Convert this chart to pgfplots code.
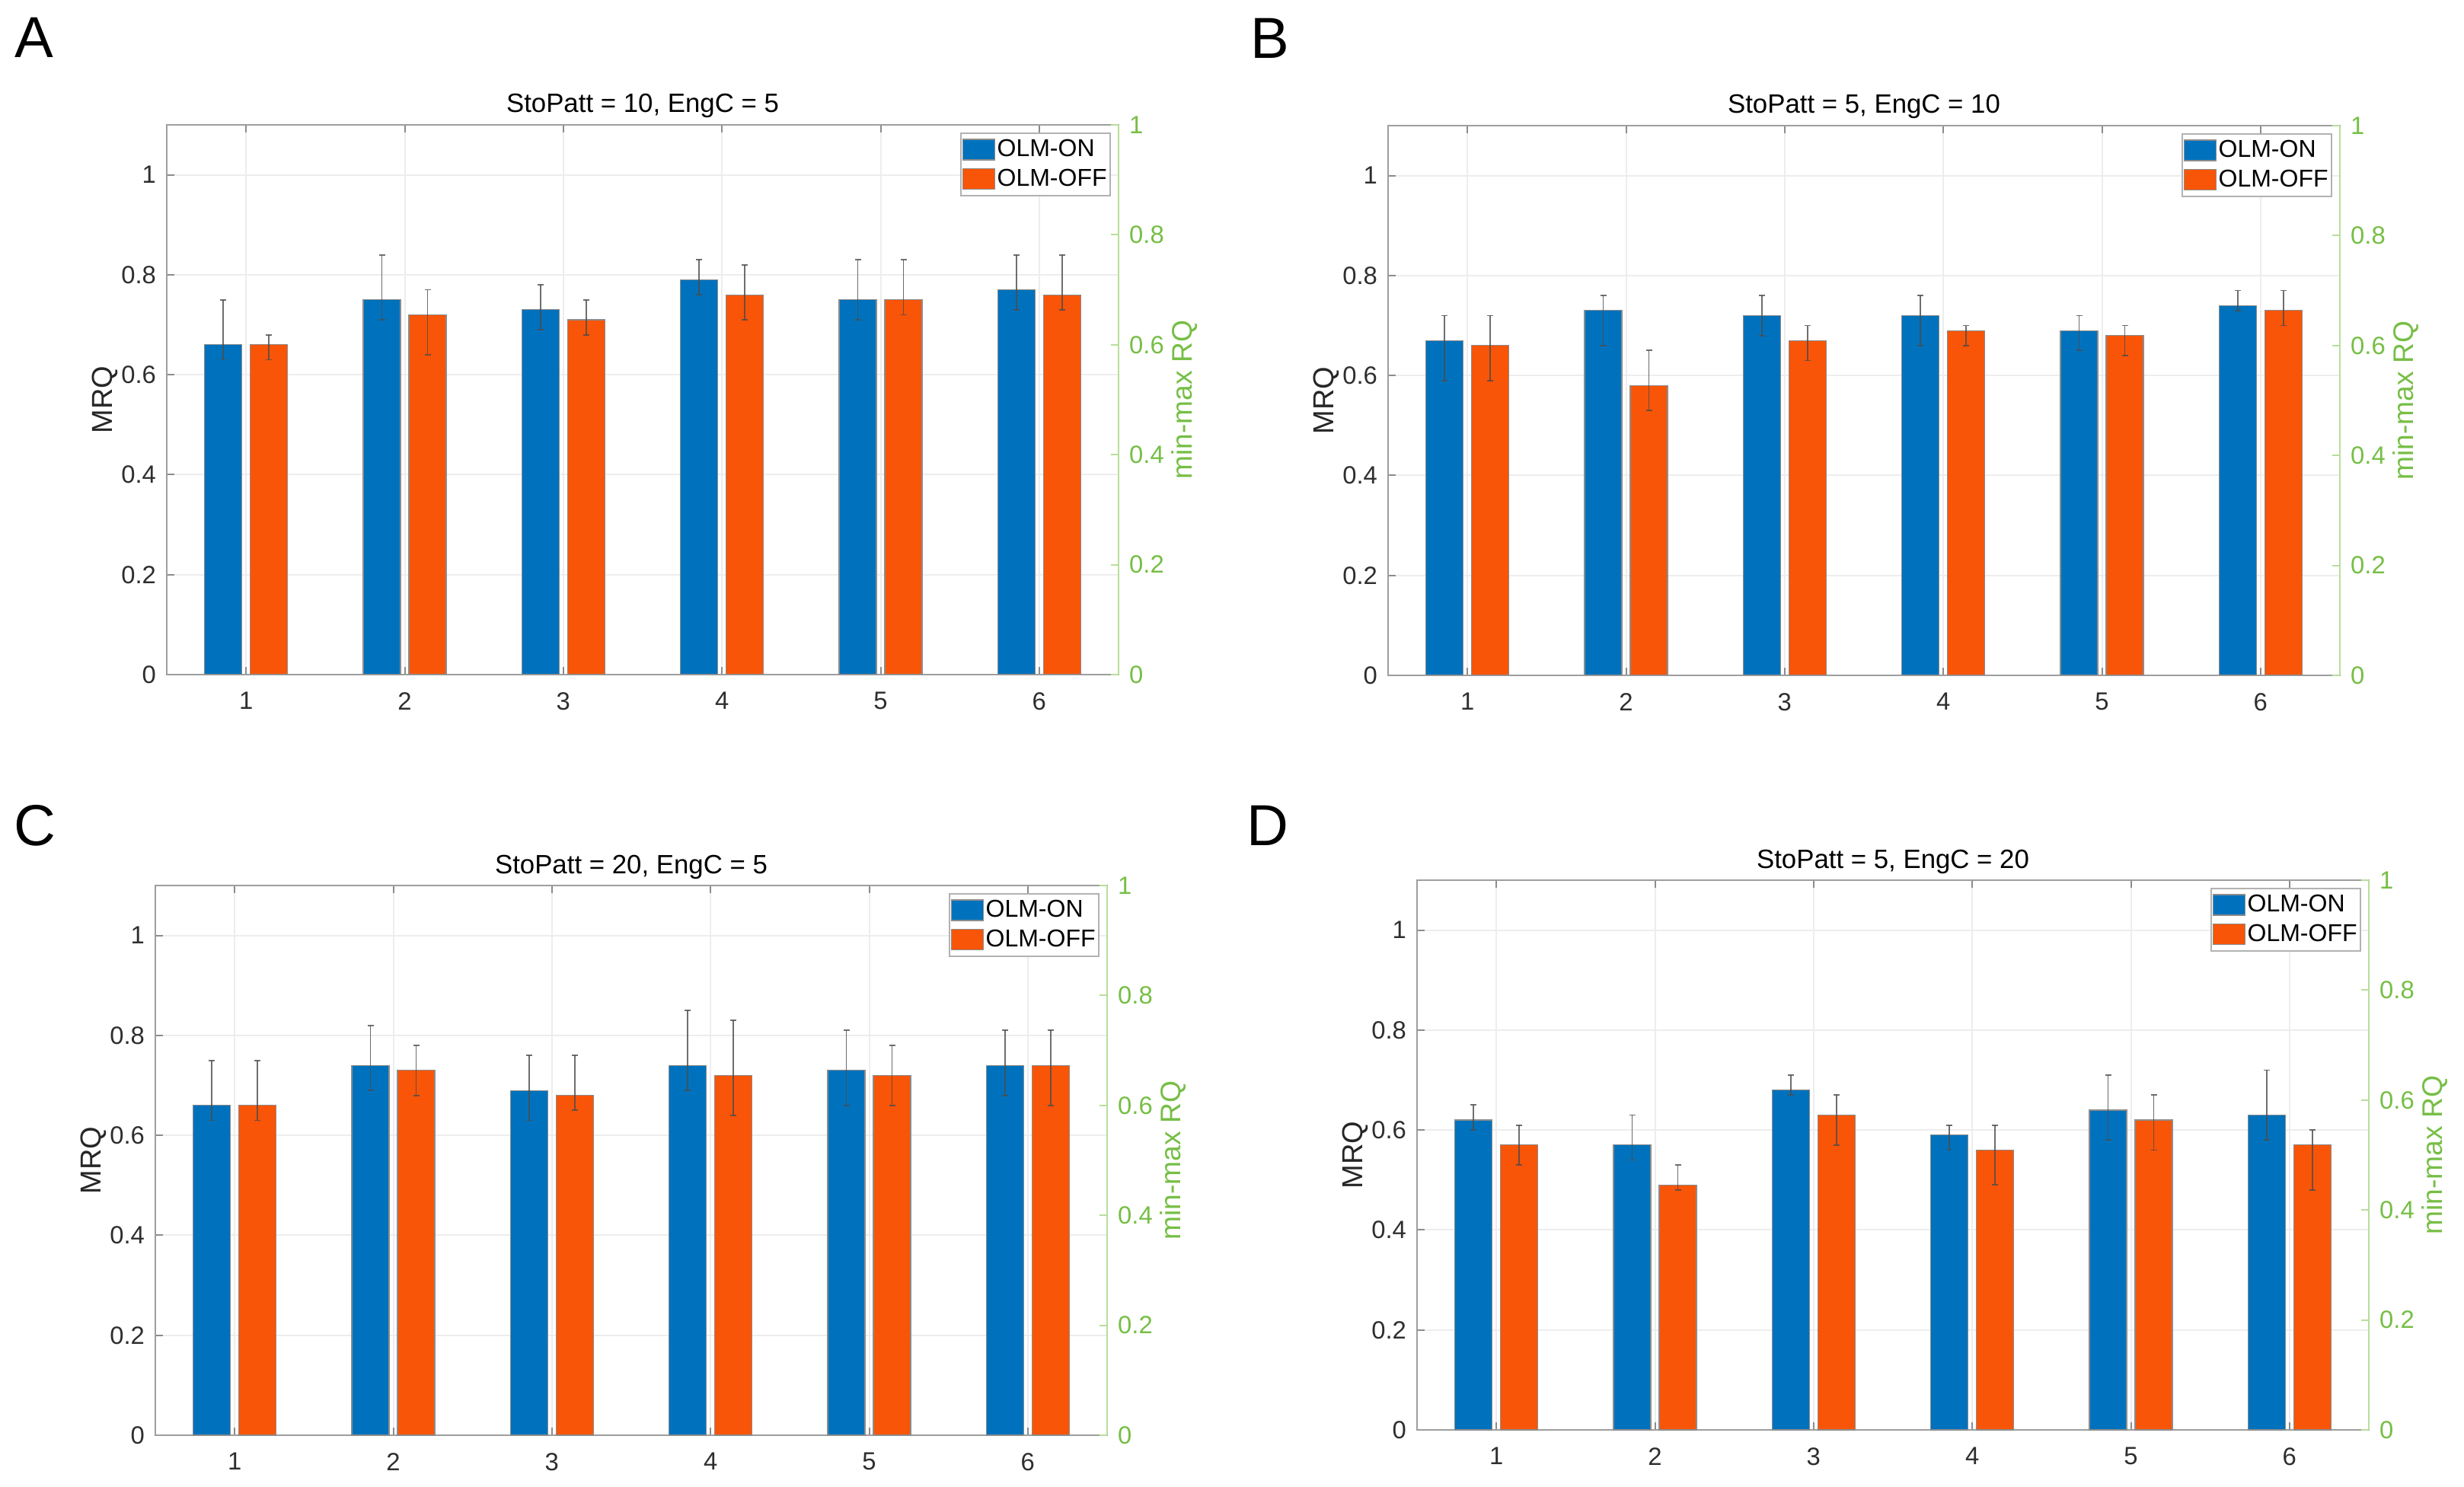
\documentclass[border=0pt]{standalone}
\usepackage{fontspec}
\setmainfont{Liberation Sans}
\usepackage{pgfplots}
\usepackage{pgfplotstable}
\pgfplotsset{compat=1.18}

\definecolor{cblue}{HTML}{0072BD}
\definecolor{corange}{HTML}{F85508}
\definecolor{cgreen}{HTML}{76BE45}
\definecolor{cgreenline}{HTML}{B8DE9C}

% columns: bar value, lower and upper end of the error bar
\pgfplotstableread{
x on onlo onhi off offlo offhi
1 0.66 0.63 0.75 0.66 0.63 0.68
2 0.75 0.71 0.84 0.72 0.64 0.77
3 0.73 0.69 0.78 0.71 0.68 0.75
4 0.79 0.76 0.83 0.76 0.71 0.82
5 0.75 0.71 0.83 0.75 0.72 0.83
6 0.77 0.73 0.84 0.76 0.73 0.84
}\tabA
\pgfplotstableread{
x on onlo onhi off offlo offhi
1 0.67 0.59 0.72 0.66 0.59 0.72
2 0.73 0.66 0.76 0.58 0.53 0.65
3 0.72 0.68 0.76 0.67 0.63 0.70
4 0.72 0.66 0.76 0.69 0.66 0.70
5 0.69 0.65 0.72 0.68 0.64 0.70
6 0.74 0.73 0.77 0.73 0.70 0.77
}\tabB
\pgfplotstableread{
x on onlo onhi off offlo offhi
1 0.66 0.63 0.75 0.66 0.63 0.75
2 0.74 0.69 0.82 0.73 0.68 0.78
3 0.69 0.63 0.76 0.68 0.65 0.76
4 0.74 0.69 0.85 0.72 0.64 0.83
5 0.73 0.66 0.81 0.72 0.66 0.78
6 0.74 0.68 0.81 0.74 0.66 0.81
}\tabC
\pgfplotstableread{
x on onlo onhi off offlo offhi
1 0.62 0.60 0.65 0.57 0.53 0.61
2 0.57 0.54 0.63 0.49 0.48 0.53
3 0.68 0.67 0.71 0.63 0.57 0.67
4 0.59 0.56 0.61 0.56 0.49 0.61
5 0.64 0.58 0.71 0.62 0.56 0.67
6 0.63 0.58 0.72 0.57 0.48 0.60
}\tabD

\pgfplotsset{
  /pgf/number format/assume math mode=true,
  frame/.style={
    anchor=south west, scale only axis,
    width=312.5pt, height=180.5pt,
    xmin=0.5, xmax=6.5,
    tick align=inside, major tick length=2.5pt,
    tick label style={font=\fontsize{8.2}{9}\selectfont},
  },
  base/.style={
    frame,
    ymin=0, ymax=1.1,
    xtick={1,2,3,4,5,6}, ytick={0,0.2,0.4,0.6,0.8,1},
    ytick pos=left,
    grid=major,
    major grid style={draw=black!7, line width=0.5pt},
    axis line style={draw=black!38, line width=0.6pt},
    tick style={draw=black!45, line width=0.5pt},
    tick label style={text=black!82},
    xticklabel style={yshift=-2.3pt},
    every axis title/.style={font=\fontsize{8.7}{10}\selectfont, at={(axis description cs:0.5,1)}, anchor=base, yshift=4pt},
    ylabel={MRQ},
    ylabel style={font=\fontsize{9.5}{11}\selectfont, text=black!85, at={(axis description cs:-0.065,0.5)}, anchor=center, rotate=0},
    legend style={at={(rel axis cs:0.992,0.986)}, anchor=north east,
      draw=black!30, line width=0.5pt, fill=white, inner sep=0.5pt, row sep=0pt,
      font=\fontsize{8}{9}\selectfont,
      nodes={inner xsep=0.6pt, inner ysep=1.1pt, text height=6pt, text depth=1.5pt}},
    legend cell align=left,
  },
  rightax/.style={
    frame,
    ymin=0, ymax=1,
    axis x line=none, axis y line*=right,
    ytick={0,0.2,0.4,0.6,0.8,1},
    y axis line style={draw=cgreenline, line width=0.6pt},
    ytick style={draw=cgreenline, line width=0.5pt},
    yticklabel style={text=cgreen},
    ylabel={min-max RQ},
    ylabel style={font=\fontsize{9.3}{11}\selectfont, text=cgreen, at={(axis description cs:1.069,0.5)}, anchor=center, rotate=0},
  },
  swatch/.style={legend image code/.code={\fill[##1] (0pt,-3.375pt) rectangle (10.5pt,3.375pt);}},
  errs/.style={error bars/.cd, y dir=both, y explicit,
    error bar style={draw=black!70, line width=0.45pt, opacity=0.8},
    error mark options={rotate=90, mark size=1pt, draw=black!70, line width=0.45pt}},
  onbar/.style={ybar, bar width=12.25pt, bar shift=0pt, fill=cblue, draw=black!45, line width=0.3pt, swatch, errs},
  offbar/.style={ybar, bar width=12.25pt, bar shift=0pt, fill=corange, draw=black!45, line width=0.3pt, swatch, errs},
}

% bars of a group sit 0.144 x-units left and right of the category
\newcommand{\panel}[4]{%
  \begin{axis}[base, at={(#1,#2)}, title={#3}]
    \addplot[onbar] table[x expr=\thisrow{x}-0.144, y=on,
      y error plus expr=\thisrow{onhi}-\thisrow{on},
      y error minus expr=\thisrow{on}-\thisrow{onlo}] {#4};
    \addlegendentry{OLM-ON}
    \addplot[offbar] table[x expr=\thisrow{x}+0.144, y=off,
      y error plus expr=\thisrow{offhi}-\thisrow{off},
      y error minus expr=\thisrow{off}-\thisrow{offlo}] {#4};
    \addlegendentry{OLM-OFF}
  \end{axis}
  \begin{axis}[rightax, at={(#1,#2)}]
  \end{axis}}

\begin{document}
\begin{tikzpicture}
  \path[use as bounding box] (0,0) rectangle (809pt,488pt);

  \panel{54.75pt}{266.5pt}{StoPatt = 10, EngC = 5}{\tabA}
  \panel{455.75pt}{266.25pt}{StoPatt = 5, EngC = 10}{\tabB}
  \panel{51pt}{16.75pt}{StoPatt = 20, EngC = 5}{\tabC}
  \panel{465.25pt}{18.5pt}{StoPatt = 5, EngC = 20}{\tabD}

  \begin{scope}[every node/.style={font=\fontsize{19}{21}\selectfont, anchor=center}]
    \node at (11.25pt,475.75pt) {A};
    \node at (417pt,475.5pt) {B};
    \node at (11.5pt,217pt) {C};
    \node at (416.25pt,217pt) {D};
  \end{scope}
\end{tikzpicture}
\end{document}
